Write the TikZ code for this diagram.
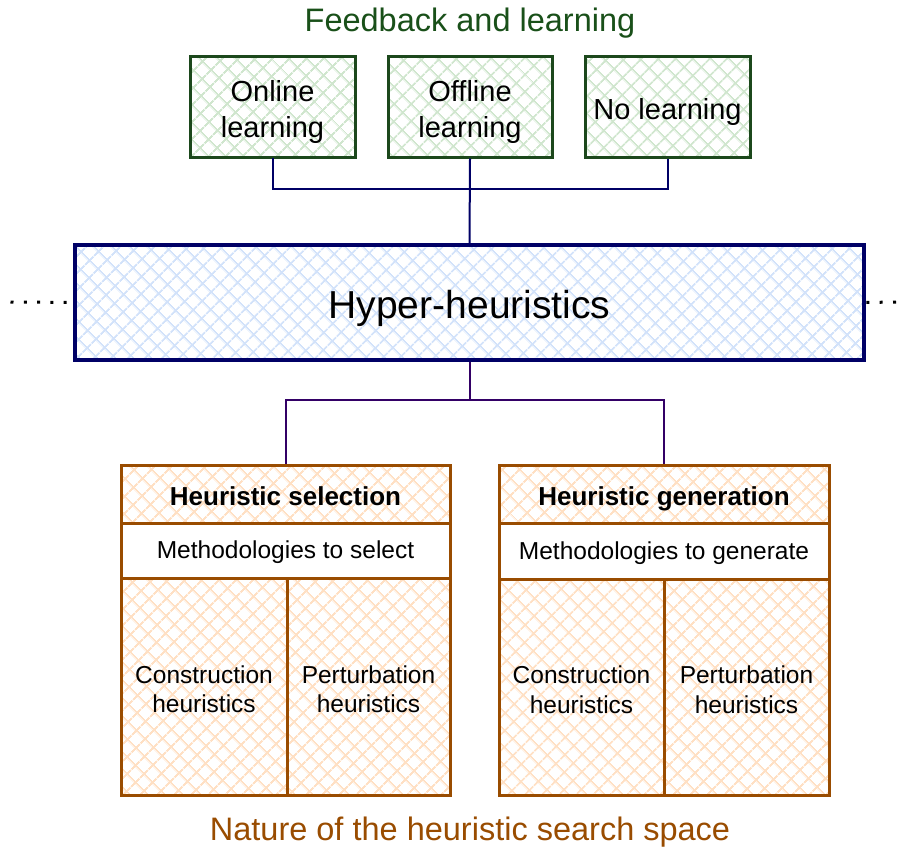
\documentclass[tikz,border=0pt]{standalone}
\usepackage{fontspec}
\setmainfont{Liberation Sans}
\usetikzlibrary{patterns.meta}
\definecolor{dgreen}{RGB}{28,72,28}
\definecolor{tgreen}{RGB}{25,80,25}
\definecolor{lgreen}{RGB}{208,230,206}
\definecolor{navy}{RGB}{0,0,102}
\definecolor{lblue}{RGB}{210,226,250}
\definecolor{brn}{RGB}{153,76,0}
\definecolor{lorange}{RGB}{255,224,196}
\definecolor{purp}{RGB}{51,0,102}
\tikzset{
  hatch/.style={pattern={Hatch[angle=45,distance=13pt,line width=2pt]}},
  greenbox/.style={draw=dgreen, line width=3pt, hatch, pattern color=lgreen, minimum width=165pt, minimum height=100pt, inner sep=0pt, align=center, font=\fontsize{29}{36.6}\selectfont},
  bluebox/.style={draw=navy, line width=3.2pt, hatch, pattern color=lblue, minimum width=789pt, minimum height=115pt, inner sep=0pt, font=\fontsize{39}{46}\selectfont},
  orbox/.style={draw=brn, line width=3pt, hatch, pattern color=lorange, inner sep=0pt, align=center, font=\fontsize{24.5}{29.5}\selectfont},
  whitebox/.style={draw=brn, line width=3pt, fill=white, inner sep=0pt, align=center, font=\fontsize{24.5}{29.5}\selectfont},
  headfont/.style={font=\fontsize{26}{30}\selectfont\bfseries},
  conn/.style={line width=2pt},
  dots/.style={line width=3pt, dash pattern=on 3pt off 10.3pt},
  title/.style={inner sep=0pt, anchor=base, font=\fontsize{32.5}{38}\selectfont}
}
\begin{document}
\begin{tikzpicture}[x=1pt,y=-1pt]
\useasboundingbox (0,0) rectangle (901,848);
% top title
\node[title, text=tgreen] (ftitle) at (470,32) {Feedback and learning};
% green boxes
\node[greenbox, text height=64pt, text depth=2.4pt] (online) at (272.5,107) {Online\\learning};
\node[greenbox, minimum width=164pt, text height=64pt, text depth=2.4pt] (offline) at (470,107) {Offline\\learning};
\node[greenbox, text height=24pt, text depth=0pt] (nolearn) at (667.5,107) {No learning};
% hyper
\node[bluebox, text height=32pt, text depth=0.6pt] (hyper) at (469.5,302.5) {Hyper-heuristics};
% left group
\node[orbox, headfont, minimum width=329pt, minimum height=58pt, text height=25pt, text depth=1.6pt] (lhead) at (285.5,494) {Heuristic selection};
\node[whitebox, minimum width=329pt, minimum height=55pt, text height=18pt, text depth=1.6pt] (lmeth) at (285.5,550.5) {Methodologies to select};
\node[orbox, minimum width=166pt, minimum height=217pt, text height=54pt, text depth=2pt] (lcons) at (204,686.5) {Construction\\heuristics};
\node[orbox, minimum width=163pt, minimum height=217pt, text height=54pt, text depth=2pt] (lpert) at (368.5,686.5) {Perturbation\\heuristics};
% right group
\node[orbox, headfont, minimum width=330pt, minimum height=58pt, text height=25pt, text depth=1.6pt] (rhead) at (664,494) {Heuristic generation};
\node[whitebox, minimum width=330pt, minimum height=56pt, text height=18pt, text depth=1.6pt] (rmeth) at (664,551) {Methodologies to generate};
\node[orbox, minimum width=165pt, minimum height=216pt, text height=54pt, text depth=2pt] (rcons) at (581.5,687) {Construction\\heuristics};
\node[orbox, minimum width=165pt, minimum height=216pt, text height=54pt, text depth=2pt] (rpert) at (746.5,687) {Perturbation\\heuristics};
% bottom title
\node[title, text=brn] (btitle) at (470,840) {Nature of the heuristic search space};
% connectors top
\draw[conn, navy] (online.south) -- ++(0,31) -| (nolearn.south);
\draw[conn, navy] (offline.south) -- (hyper.north);
% connectors bottom
\draw[conn, purp] (hyper.south) -- ++(0,38) coordinate (j);
\draw[conn, purp] (lhead.north) |- (j) -| (rhead.north);
% dots
\coordinate (ldots) at (10.5,302);
\coordinate (rdots) at (896,302);
\draw[dots] (ldots) -- (hyper.west);
\draw[dots] (rdots) -- (hyper.east);
\end{tikzpicture}
\end{document}
